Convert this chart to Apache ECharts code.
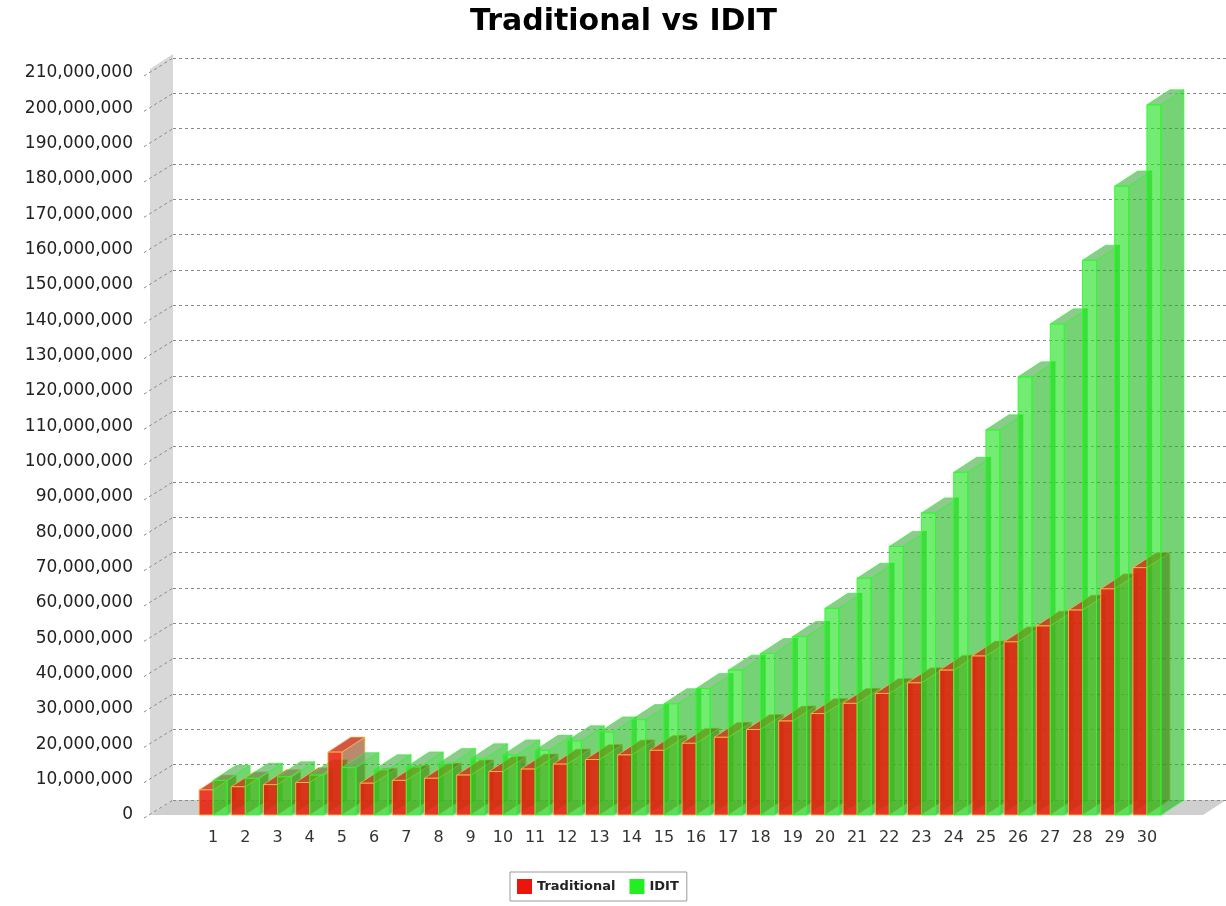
<!DOCTYPE html>
<html>
<head>
<meta charset="utf-8">
<script src="https://cdn.jsdelivr.net/npm/echarts@6/dist/echarts.min.js"></script>
<style>
html,body{margin:0;padding:0;background:#ffffff;}
#chart{width:1226px;height:906px;}
</style>
</head>
<body>
<div id="chart"></div>
<script>
// ---- data ----
const categories = ['1','2','3','4','5','6','7','8','9','10','11','12','13','14','15','16','17','18','19','20','21','22','23','24','25','26','27','28','29','30'];
const traditional = [7100000, 8000000, 8600000, 9200000, 17800000, 9000000, 9800000, 10400000, 11300000, 12300000,
  13000000, 14400000, 15700000, 17000000, 18300000, 20300000, 22000000, 24200000, 26600000, 28700000,
  31600000, 34400000, 37400000, 41000000, 45000000, 49000000, 53500000, 58000000, 64000000, 70000000];
const idit = [9800000, 10400000, 10800000, 11300000, 13400000, 12800000, 13600000, 14600000, 15900000, 17000000,
  18300000, 21000000, 23500000, 27000000, 31500000, 35800000, 41000000, 45700000, 50500000, 58500000,
  67000000, 76000000, 85500000, 97000000, 109000000, 124000000, 139000000, 157000000, 178000000, 201000000];
const seriesNames = ['Traditional', 'IDIT'];
const yMin = 0;
const yMax = 210000000;
const yStep = 10000000;

// ---- style / layout constants ----
const DX = 23, DY = -15;                    // 3D depth offset
const FRONT = {left: 197, right: 63, top: 73, bottom: 91};
const BACK = {left: 173, right: 0, top: 58, bottom: 106};
const WALL_FRONT_X = 150;
const RED = {front: 'rgba(232,28,12,0.86)', side: 'rgba(140,60,15,0.6)', top: 'rgba(205,55,35,0.85)', stroke: 'rgba(255,190,70,0.85)'};
const GREEN = {front: 'rgba(30,225,30,0.62)', side: 'rgba(25,180,25,0.6)', top: 'rgba(100,180,100,0.72)', stroke: 'rgba(40,255,40,0.9)'};

function box(xl, xr, yt, yb, st) {
  return [
    {type: 'polygon', shape: {points: [[xr, yt], [xr + DX, yt + DY], [xr + DX, yb + DY], [xr, yb]]},
      style: {fill: st.side, stroke: st.stroke, lineWidth: 0.8}},
    {type: 'polygon', shape: {points: [[xl, yt], [xr, yt], [xr + DX, yt + DY], [xl + DX, yt + DY]]},
      style: {fill: st.top, stroke: st.stroke, lineWidth: 0.8}},
    {type: 'rect', shape: {x: xl, y: yt, width: xr - xl, height: yb - yt},
      style: {fill: st.front, stroke: st.stroke, lineWidth: 1}}
  ];
}

function renderItem(params, api) {
  const idx = api.value(0);
  const base = api.coord([idx, 0]);
  const band = api.size([1, 0])[0];
  const bw = band * 0.435;
  const yR = api.coord([idx, api.value(1)])[1];
  const yG = api.coord([idx, api.value(2)])[1];
  const cx = base[0], yb = base[1];
  return {
    type: 'group',
    children: box(cx - bw, cx, yR, yb, RED).concat(box(cx, cx + bw, yG, yb, GREEN))
  };
}

const chart = echarts.init(document.getElementById('chart'), null, {renderer: 'canvas'});
const fmt = v => Number(v).toLocaleString('en-US');

chart.setOption({
  animation: false,
  backgroundColor: '#ffffff',
  title: {
    text: 'Traditional vs IDIT',
    left: 470, top: 7, padding: 0,
    textStyle: {fontFamily: 'DejaVu Sans', fontWeight: 'bold', fontSize: 30, color: '#000'}
  },
  legend: {
    data: seriesNames,
    left: 510, top: 872,
    padding: [7, 8, 7, 7],
    itemGap: 14, itemWidth: 15, itemHeight: 15,
    icon: 'rect',
    borderColor: '#999', borderWidth: 1,
    textStyle: {fontFamily: 'DejaVu Sans', fontWeight: 'bold', fontSize: 13, color: '#222'}
  },
  grid: [
    {left: FRONT.left, right: FRONT.right, top: FRONT.top, bottom: FRONT.bottom, containLabel: false},
    {left: BACK.left, right: BACK.right, top: BACK.top, bottom: BACK.bottom, containLabel: false}
  ],
  xAxis: [
    {type: 'category', gridIndex: 0, data: categories, boundaryGap: true,
      axisLine: {show: false}, axisTick: {show: false},
      axisLabel: {margin: 15, fontFamily: 'DejaVu Sans', fontSize: 16, color: '#333', interval: 0}},
    {type: 'value', gridIndex: 1, min: 0, max: 1, show: false}
  ],
  yAxis: [
    {type: 'value', gridIndex: 0, min: yMin, max: yMax, interval: yStep,
      axisLine: {show: false}, axisTick: {show: false}, splitLine: {show: false},
      axisLabel: {margin: 64, formatter: fmt, fontFamily: 'DejaVu Sans', fontSize: 17, color: '#222'}},
    {type: 'value', gridIndex: 1, min: yMin, max: yMax, interval: yStep,
      axisLine: {show: false}, axisTick: {show: false}, axisLabel: {show: false},
      splitLine: {show: true, lineStyle: {color: '#8a8a8a', width: 1, type: [3, 3]}}}
  ],
  series: [
    {name: seriesNames[0], type: 'bar', xAxisIndex: 0, yAxisIndex: 0, data: [], itemStyle: {color: '#e8160c'}},
    {name: seriesNames[1], type: 'bar', xAxisIndex: 0, yAxisIndex: 0, data: [], itemStyle: {color: '#22ee22'}},
    {
      type: 'custom', xAxisIndex: 0, yAxisIndex: 0,
      renderItem: renderItem,
      encode: {x: 0, y: [1, 2]},
      data: categories.map((c, i) => [i, traditional[i], idit[i]]),
      z: 3
    }
  ]
});

// walls, floor and slanted tick connectors derived from the axis scale
const yF0 = chart.convertToPixel({yAxisIndex: 0}, yMin);
const yFT = chart.convertToPixel({yAxisIndex: 0}, yMax);
const W = 1226;
const gfx = [
  {type: 'polygon', z: -10, silent: true,
    shape: {points: [[WALL_FRONT_X, yF0], [WALL_FRONT_X, yFT - 4], [WALL_FRONT_X + DX, yFT + DY - 4], [WALL_FRONT_X + DX, yF0 + DY]]},
    style: {fill: '#d8d8d8'}},
  {type: 'polygon', z: -10, silent: true,
    shape: {points: [[WALL_FRONT_X, yF0], [W - DX, yF0], [W, yF0 + DY], [WALL_FRONT_X + DX, yF0 + DY]]},
    style: {fill: '#cfcfcf'}}
];
for (let v = yMin; v <= yMax; v += yStep) {
  const yf = chart.convertToPixel({yAxisIndex: 0}, v);
  gfx.push({type: 'line', z: -5, silent: true,
    shape: {x1: WALL_FRONT_X - 6, y1: yf + 3, x2: WALL_FRONT_X + DX, y2: yf + DY},
    style: {stroke: '#8a8a8a', lineWidth: 1, lineDash: [3, 3]}});
}
chart.setOption({graphic: gfx});
</script>
</body>
</html>
